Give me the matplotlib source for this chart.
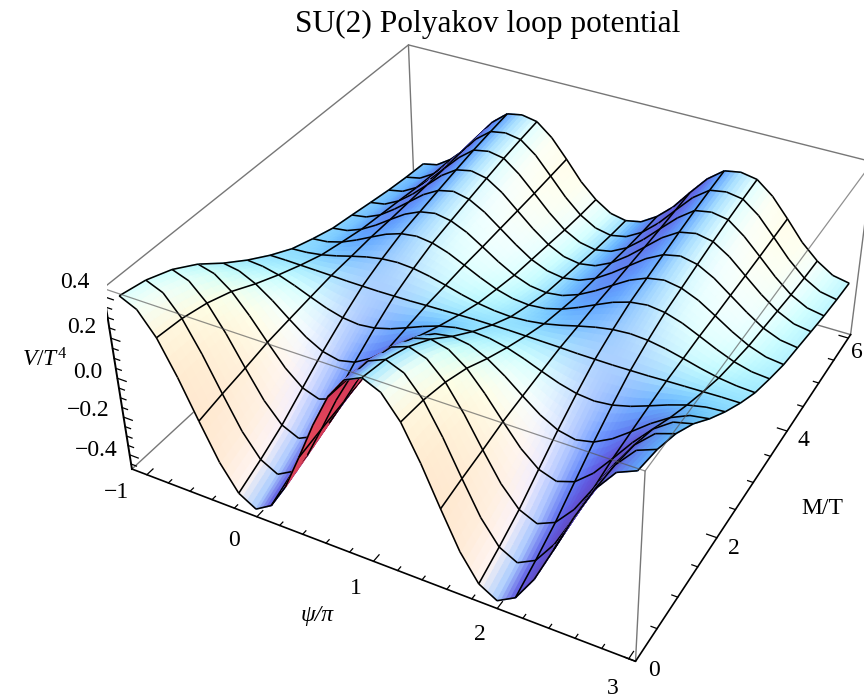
import numpy as np
import matplotlib
matplotlib.use('Agg')
import matplotlib.pyplot as plt
from mpl_toolkits.mplot3d.art3d import Poly3DCollection

plt.rcParams['font.family'] = ['Liberation Serif', 'DejaVu Serif']
plt.rcParams['mathtext.fontset'] = 'custom'
plt.rcParams['mathtext.rm'] = 'Liberation Serif'
plt.rcParams['mathtext.it'] = 'Liberation Serif:italic'

# values (psi/pi along a row, M/T down the rows)
psi_values = [-1 + k / 7 for k in range(29)]
m_values = [3 * k / 7 for k in range(15)]
v_table = [
    [.43, .391, .283, .118, -.072, -.254, -.384, -.436, -.384, -.254, -.072, .118, .283, .391, .43, .391, .283, .118, -.072, -.254, -.384, -.436, -.384, -.254, -.072, .118, .283, .391, .43],
    [.405, .37, .272, .124, -.047, -.211, -.328, -.375, -.328, -.211, -.047, .124, .272, .37, .405, .37, .272, .124, -.047, -.211, -.328, -.375, -.328, -.211, -.047, .124, .272, .37, .405],
    [.358, .328, .245, .12, -.026, -.165, -.264, -.304, -.264, -.165, -.026, .12, .245, .328, .358, .328, .245, .12, -.026, -.165, -.264, -.304, -.264, -.165, -.026, .12, .245, .328, .358],
    [.287, .265, .202, .107, -.002, -.107, -.182, -.212, -.182, -.107, -.002, .107, .202, .265, .287, .265, .202, .107, -.002, -.107, -.182, -.212, -.182, -.107, -.002, .107, .202, .265, .287],
    [.195, .181, .141, .082, .012, -.054, -.101, -.12, -.101, -.054, .012, .082, .141, .181, .195, .181, .141, .082, .012, -.054, -.101, -.12, -.101, -.054, .012, .082, .141, .181, .195],
    [.114, .107, .088, .059, .025, -.007, -.03, -.039, -.03, -.007, .025, .059, .088, .107, .114, .107, .088, .059, .025, -.007, -.03, -.039, -.03, -.007, .025, .059, .088, .107, .114],
    [.043, .043, .041, .039, .037, .034, .033, .032, .033, .034, .037, .039, .041, .043, .043, .043, .041, .039, .037, .034, .033, .032, .033, .034, .037, .039, .041, .043, .043],
    [-.018, -.013, -.001, .018, .041, .062, .077, .083, .077, .062, .041, .018, -.001, -.013, -.018, -.013, -.001, .018, .041, .062, .077, .083, .077, .062, .041, .018, -.001, -.013, -.018],
    [-.059, -.051, -.028, .007, .047, .086, .113, .124, .113, .086, .047, .007, -.028, -.051, -.059, -.051, -.028, .007, .047, .086, .113, .124, .113, .086, .047, .007, -.028, -.051, -.059],
    [-.095, -.084, -.053, -.007, .047, .099, .135, .15, .135, .099, .047, -.007, -.053, -.084, -.095, -.084, -.053, -.007, .047, .099, .135, .15, .135, .099, .047, -.007, -.053, -.084, -.095],
    [-.115, -.102, -.067, -.012, .05, .112, .157, .175, .157, .112, .05, -.012, -.067, -.102, -.115, -.102, -.067, -.012, .05, .112, .157, .175, .157, .112, .05, -.012, -.067, -.102, -.115],
    [-.136, -.122, -.081, -.02, .052, .125, .178, .195, .178, .125, .052, -.02, -.081, -.122, -.136, -.122, -.081, -.02, .052, .125, .178, .195, .178, .125, .052, -.02, -.081, -.122, -.136],
    [-.156, -.14, -.096, -.027, .055, .135, .197, .212, .197, .135, .055, -.027, -.096, -.14, -.156, -.14, -.096, -.027, .055, .135, .197, .212, .197, .135, .055, -.027, -.096, -.14, -.156],
    [-.171, -.154, -.106, -.032, .06, .15, .212, .226, .212, .15, .06, -.032, -.106, -.154, -.171, -.154, -.106, -.032, .06, .15, .212, .226, .212, .15, .06, -.032, -.106, -.154, -.171],
    [-.182, -.165, -.112, -.036, .065, .16, .225, .24, .225, .16, .065, -.036, -.112, -.165, -.182, -.165, -.112, -.036, .065, .16, .225, .24, .225, .16, .065, -.036, -.112, -.165, -.182],
]

psi_major = [-1, 0, 1, 2, 3]
m_major = [0, 2, 4, 6]
z_major = [-0.4, -0.2, 0.0, 0.2, 0.4]
psi_minor = [k / 5 - 1 for k in range(21)]
m_minor = [k / 2 for k in range(13)]
z_minor = [k / 20 - 0.45 for k in range(18)]

W, H = 864, 698
xl, xh, yl, yh, zl, zh = -1.14, 3.05, 0.0, 6.08, -0.477, 0.44
elev, azim, roll, focal = 35.53, -61.40, 0.34, 0.439
aspect = np.array([2.526, 2.517, 1.0])
side, left, bottom = 779.8, 106.9, -15.8  # axes square, in pixels


def fig_xy(x, y):
    return x / W, 1 - y / H


fig = plt.figure(figsize=(W / 100, H / 100), dpi=100)
ax = fig.add_axes([left / W, bottom / H, side / W, side / H], projection='3d', computed_zorder=False)
ax.set_autoscale_on(False)
ax.set_xlim(xl, xh)
ax.set_ylim(yl, yh)
ax.set_zlim(zl, zh)
ax.view_init(elev=elev, azim=azim, roll=roll)
ax.set_proj_type('persp', focal_length=focal)
ax.set_box_aspect(aspect)
ax.set_axis_off()
ax.get_proj()
u, v, w = ax._view_u, ax._view_v, ax._view_w

box = aspect * 1.8294640721620434 * 25 / 24 / np.linalg.norm(aspect)
eye = 0.5 * box + 10 * focal * w
scale = box / np.array([xh - xl, yh - yl, zh - zl])
origin = np.array([xl, yl, zl])

X, Y = np.meshgrid(psi_values, m_values)
Z = np.array(v_table)
pts = np.dstack([X, Y, Z])
boxpts = (pts - origin) * scale

# lighting as three coloured lights fixed to the viewer
dj = np.gradient(boxpts, axis=1)
di = np.gradient(boxpts, axis=0)
normals = np.cross(dj, di)
normals /= np.linalg.norm(normals, axis=2, keepdims=True)
lights = np.array([[1, 0, 1], [1, 1, 1], [0, 1, 1]], float)
lights /= np.linalg.norm(lights, axis=1, keepdims=True)
ambient = np.array([0.38, 0.31, 0.58])
gain = np.array([0.66, 0.72, 0.50])
underside = np.array([1.1, 0.6, 0.6])


def shade(n):
    nv = np.array([n @ u, n @ v, n @ w])
    return np.clip(ambient + gain * np.maximum(lights @ nv, 0), 0, 1)


def blend(s, t, q00, q01, q10, q11):
    return (1 - s) * (1 - t) * q00 + (1 - s) * t * q01 + s * (1 - t) * q10 + s * t * q11


verts, faces, edges = [], [], []
ni, nj = Z.shape
sub = 4  # colour steps inside one cell, the corners are the table's points
for i in range(ni - 1):
    for j in range(nj - 1):
        corners = [(i, j), (i, j + 1), (i + 1, j), (i + 1, j + 1)]
        n = sum(normals[c] for c in corners)
        c = (boxpts[i, j] + boxpts[i + 1, j + 1]) / 2
        sign = 1 if np.dot(n, eye - c) >= 0 else -1
        cols = [shade(sign * normals[c]) for c in corners]
        if sign < 0:
            cols = [np.clip(q * underside, 0, 1) for q in cols]
        p = [pts[c] for c in corners]
        for a in range(sub):
            for b in range(sub):
                s0, s1, t0, t1 = a / sub, (a + 1) / sub, b / sub, (b + 1) / sub
                quad = [blend(s0, t0, *p), blend(s0, t1, *p), blend(s1, t1, *p), blend(s1, t0, *p)]
                col = blend((s0 + s1) / 2, (t0 + t1) / 2, *cols)
                verts.append(quad)
                faces.append(col)
                edges.append(col)


def toward_eye(p, t=0.06):
    b = (p - origin) * scale
    d = eye - b
    return ((b + t * d / np.linalg.norm(d)) / scale) + origin


def add_seg(a, b):
    p0, p1 = toward_eye(a), toward_eye(b)
    verts.append([p0, p1, p1, p0])
    faces.append((0, 0, 0))
    edges.append((0, 0, 0))


for i in range(ni):
    for j in range(nj - 1):
        add_seg(pts[i, j], pts[i, j + 1])
for j in range(0, nj, 2):
    for i in range(ni - 1):
        add_seg(pts[i, j], pts[i + 1, j])

# box lines behind the surface
gray = '#777777'
ax.plot([xl, xl, xh], [yh, yh, yh], [zl, zh, zh], color=gray, lw=1.0, zorder=1)
ax.plot([xl, xl], [0, yh], [zh, zh], color=gray, lw=1.0, zorder=1)
ax.plot([xl, xl, xh], [0, yh, yh], [zl, zl, zl], color=gray, lw=1.0, zorder=1)
ax.plot([xh, xh], [yh, yh], [zl, zh], color=gray, lw=1.0, zorder=1)

surf = Poly3DCollection(verts, facecolors=faces, edgecolors=edges, linewidths=1.15, zsort='average', zorder=2)
ax.add_collection3d(surf, autolim=False)

# box lines in front, faint over the surface
ax.plot([xl, xh, xh], [0, 0, yh], [zh, zh, zh], color='#555555', lw=0.9, alpha=0.65, zorder=3)
ax.plot([xh, xh], [0, 0], [zl, zh], color=gray, lw=1.0, zorder=3)

# axes with ticks
ax.plot([xl, xh, xh], [0, 0, yh], [zl, zl, zl], color='black', lw=1.2, zorder=4)
ax.plot([xl, xl], [0, 0], [zl, zh], color='black', lw=1.4, zorder=4)
for t in psi_minor:
    n = 0.11 if t in psi_major else 0.06
    ax.plot([t, t], [0, n], [zl, zl], color='black', lw=0.9, zorder=4)
for t in m_minor:
    n = 0.08 if t in m_major else 0.045
    ax.plot([xh, xh - n], [t, t], [zl, zl], color='black', lw=0.9, zorder=4)
for t in z_minor:
    n = 0.08 if any(abs(t - q) < 1e-6 for q in z_major) else 0.05
    ax.plot([xl, xl + n], [0, 0], [t, t], color='black', lw=0.9, zorder=4)

# labels at their place in the picture
tick_font = 17
labels = [('0.4', 75, 283), ('0.2', 82, 327), ('0.0', 88, 372), ('\u22120.2', 88, 410), ('\u22120.4', 96, 450),
          ('\u22121', 117, 493), ('0', 234, 540), ('1', 356, 588), ('2', 480, 635), ('3', 613, 688),
          ('0', 654, 670), ('2', 734, 548), ('4', 803, 440), ('6', 857, 352)]
for s, x, y in labels:
    fx, fy = fig_xy(x, y)
    fig.text(fx, fy, s, fontsize=tick_font, ha='center', va='center')
fx, fy = fig_xy(488, 24)
fig.text(fx, fy, 'SU(2) Polyakov loop potential', fontsize=22.6, ha='center', va='center')
fx, fy = fig_xy(45, 360)
fig.text(fx, fy, r'$V/T^{4}$', fontsize=17, ha='center', va='center')
fx, fy = fig_xy(822, 508)
fig.text(fx, fy, 'M/T', fontsize=17, ha='center', va='center')
fx, fy = fig_xy(317, 615)
fig.text(fx, fy, '\u03c8/\u03c0', fontsize=17, ha='center', va='center', style='italic')

fig.savefig('out.png', dpi=100)
